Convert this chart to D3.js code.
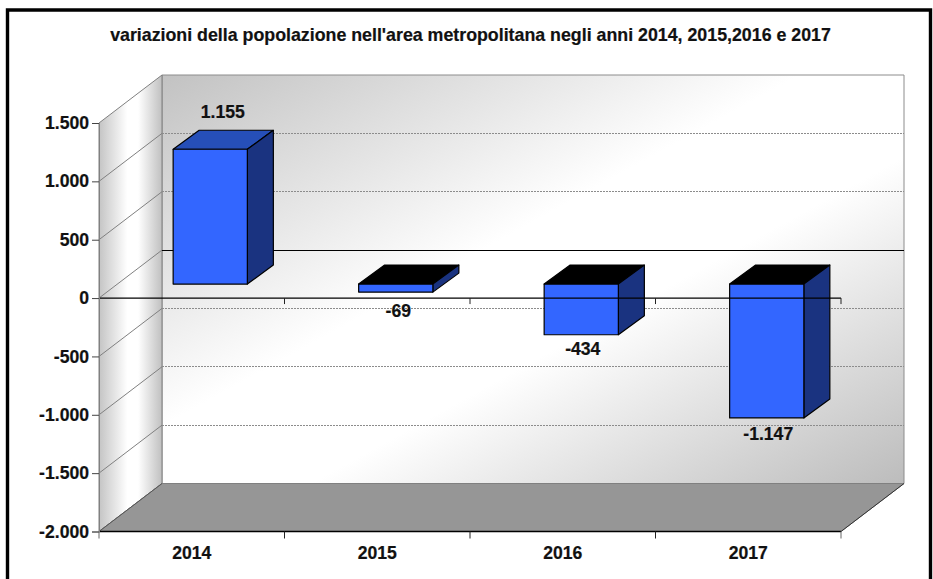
<!DOCTYPE html>
<html><head><meta charset="utf-8">
<script src="https://cdn.jsdelivr.net/npm/d3@7/dist/d3.min.js"></script>
<style>
html,body{margin:0;padding:0;background:#fff}
svg{display:block}
text{font-family:"Liberation Sans",Arial,sans-serif;font-weight:bold;fill:#111;stroke:#111;stroke-width:.2px}
</style></head><body>
<svg id="c" width="933" height="579"></svg>
<script>
const title = "variazioni della popolazione nell'area metropolitana negli anni 2014, 2015,2016 e 2017";
const categories = ["2014","2015","2016","2017"];
const values = [1155,-69,-434,-1147];
const yTicks = [1500,1000,500,0,-500,-1000,-1500,-2000];

const W=933,H=579;
const depth={dx:63,dy:-48};            // wall depth
const barPlane={dx:18.5,dy:-14};       // bar front plane offset
const barDepth={dx:26,dy:-19};         // bar side extrusion
const svg=d3.select("#c");
const y=d3.scaleLinear().domain([-2000,1500]).range([531.5,123]);
const x=d3.scaleBand().domain(categories).range([99,841]).paddingInner(.6).paddingOuter(.3);
const fmt=d3.formatLocale({decimal:",",thousands:".",grouping:[3],currency:["",""],minus:"-"}).format(",d");
const L=99,R=841,T=y(1500),B=y(-2000);

const defs=svg.append("defs");
function grad(id,x1,y1,x2,y2,stops){
  const g=defs.append("linearGradient").attr("id",id).attr("x1",x1).attr("y1",y1).attr("x2",x2).attr("y2",y2);
  stops.forEach(s=>g.append("stop").attr("offset",s[0]).attr("stop-color",s[1]));
}
grad("wall",0,0,1,1,[[0,"#c2c2c2"],[.43,"#ffffff"],[.6,"#ffffff"],[1,"#bcbcbc"]]);
grad("side",0,0,1,0,[[0,"#c4c4c4"],[.45,"#ffffff"],[.62,"#ffffff"],[1,"#c0c0c0"]]);

const poly=pts=>pts.map(p=>p.join(",")).join(" ");
// walls
svg.append("polygon").attr("points",poly([[L+depth.dx,T+depth.dy],[R+depth.dx,T+depth.dy],[R+depth.dx,B+depth.dy],[L+depth.dx,B+depth.dy]]))
  .attr("fill","url(#wall)").attr("stroke","#8c8c8c").attr("stroke-width",1);
svg.append("polygon").attr("points",poly([[L,T],[L+depth.dx,T+depth.dy],[L+depth.dx,B+depth.dy],[L,B]]))
  .attr("fill","url(#side)").attr("stroke","#808080").attr("stroke-width",1);
svg.append("polygon").attr("points",poly([[L,B],[L+depth.dx,B+depth.dy],[R+depth.dx,B+depth.dy],[R,B]]))
  .attr("fill","#969696").attr("stroke","#808080").attr("stroke-width",1);
svg.append("line").attr("x1",R).attr("y1",B).attr("x2",R+depth.dx).attr("y2",B+depth.dy).attr("stroke","#333");
svg.append("line").attr("x1",L).attr("y1",B).attr("x2",L+depth.dx).attr("y2",B+depth.dy).attr("stroke","#555");

// grid
const inner=yTicks.filter(t=>t!==-2000&&t!==1500);
svg.append("g").selectAll("line").data(inner).join("line")
  .attr("shape-rendering","crispEdges")
  .attr("x1",L+depth.dx).attr("x2",R+depth.dx)
  .attr("y1",d=>y(d)+depth.dy).attr("y2",d=>y(d)+depth.dy)
  .attr("stroke",d=>d===0?"#000":"#8c8c8c")
  .attr("stroke-dasharray",d=>d===0?null:"2,1")
  .attr("stroke-width",1);
svg.append("g").selectAll("line").data(inner).join("line")
  .attr("x1",L).attr("x2",L+depth.dx)
  .attr("y1",d=>y(d)).attr("y2",d=>y(d)+depth.dy)
  .attr("stroke","#808080").attr("stroke-width",1);

// bars
const bars=categories.map((c,i)=>({c,v:values[i],i}));
const bg=svg.append("g").attr("stroke","#000").attr("stroke-width",1.2).attr("stroke-linejoin","round");
bars.forEach(b=>{
  const x0=x(b.c)+barPlane.dx,x1=x0+x.bandwidth();
  const yt=y(Math.max(b.v,0))+barPlane.dy,yb=y(Math.min(b.v,0))+barPlane.dy;
  const g=bg.append("g");
  g.append("polygon").attr("points",poly([[x0,yt],[x0+barDepth.dx,yt+barDepth.dy],[x1+barDepth.dx,yt+barDepth.dy],[x1,yt]]))
    .attr("fill",b.v>0?"#264fb8":"#000");
  g.append("polygon").attr("points",poly([[x1,yt],[x1+barDepth.dx,yt+barDepth.dy],[x1+barDepth.dx,yb+barDepth.dy],[x1,yb]]))
    .attr("fill","#1a3380");
  g.append("rect").attr("x",x0).attr("y",yt).attr("width",x.bandwidth()).attr("height",yb-yt).attr("fill","#3366ff");
});

// zero axis with ticks at band boundaries
const edges=d3.range(categories.length+1).map(i=>L+i*x.step());
svg.append("line").attr("x1",L).attr("x2",R).attr("y1",y(0)).attr("y2",y(0)).attr("stroke","#000").attr("stroke-width",1.2);
svg.append("g").selectAll("line").data(edges.slice(1)).join("line")
  .attr("x1",d=>d).attr("x2",d=>d).attr("y1",y(0)).attr("y2",y(0)+6).attr("stroke","#222");
// bottom axis line and ticks
svg.append("line").attr("x1",L).attr("x2",R).attr("y1",B).attr("y2",B).attr("stroke","#000").attr("stroke-width",1.4);
svg.append("g").selectAll("line").data(edges).join("line")
  .attr("x1",d=>d).attr("x2",d=>d).attr("y1",B).attr("y2",B+7).attr("stroke",(d,i)=>i===0||i===4?"#666":"#222");

// axes (labels and left ticks)
const ax=svg.append("g").attr("transform",`translate(${L},0)`).call(d3.axisLeft(y).tickValues(yTicks).tickFormat(fmt).tickSize(7).tickPadding(3));
ax.select(".domain").attr("stroke","#808080");
ax.selectAll(".tick line").attr("stroke","#444");
ax.selectAll("text").attr("font-size",17.6).attr("font-family",null);
const bx=svg.append("g").attr("transform",`translate(0,${B})`).call(d3.axisBottom(x).tickSize(0).tickPadding(15));
bx.select(".domain").remove();
bx.selectAll("text").attr("font-size",17.6).attr("font-family",null);

// data labels
const belowNudge=[0,2,-3,-1];
svg.append("g").selectAll("text").data(bars).join("text")
  .attr("text-anchor","middle").attr("font-size",17.6)
  .attr("x",d=>x(d.c)+x.bandwidth()/2+(d.v>0?31:(d.i===1?21:20)))
  .attr("y",d=>d.v>0?y(d.v)+barPlane.dy-31:y(d.v)+barPlane.dy+23+belowNudge[d.i])
  .text(d=>fmt(d.v));

// title
svg.append("text").attr("x",470.5).attr("y",41).attr("text-anchor","middle").attr("font-size",17.8).text(title);

// frame
svg.append("path").attr("d",`M7.5,${H+5}V10H930.5V${H+5}`).attr("fill","none").attr("stroke","#000").attr("stroke-width",3.4);
</script>
</body></html>
